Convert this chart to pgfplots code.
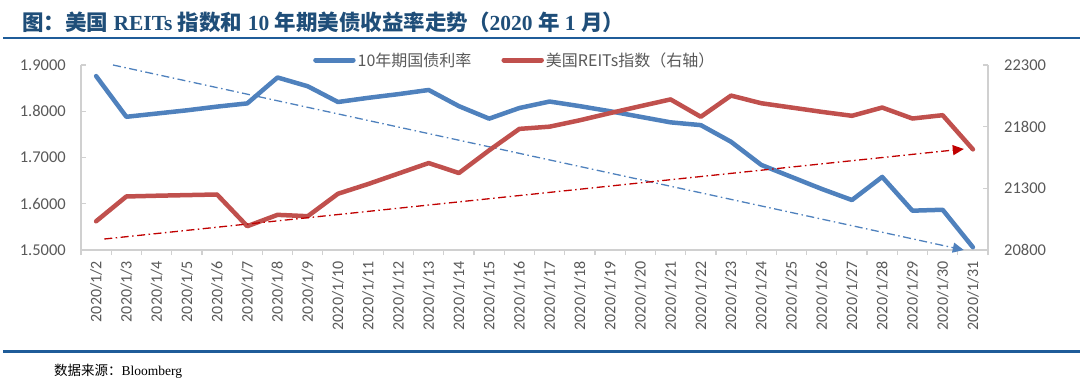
\documentclass[border=0pt]{standalone}
\usepackage{fontspec}
\usepackage{pgfplots}
\pgfplotsset{compat=1.18}
\usetikzlibrary{arrows.meta}
\setmainfont{Liberation Serif}
\newfontfamily\cjk{Noto Sans CJK SC}
\newfontfamily\numfont{Carlito}
\definecolor{blueS}{HTML}{4F81BD}
\definecolor{redS}{HTML}{C0504D}
\definecolor{redT}{HTML}{C00000}
\definecolor{titleblue}{HTML}{1F4E79}
\definecolor{ruleblue}{HTML}{1F5C99}
\definecolor{axgray}{HTML}{D0D0D0}
\definecolor{lblgray}{HTML}{595959}

\begin{document}
\begin{tikzpicture}
\path[use as bounding box] (0,0) rectangle (1080bp,384bp);
\node[anchor=west, inner sep=0pt, text=titleblue, font=\fontsize{21.5bp}{24bp}\selectfont\bfseries] at (22bp,362bp)
 {{\cjk 图：美国} REITs {\cjk 指数和} 10 {\cjk 年期美债收益率走势（}2020 {\cjk 年} 1 {\cjk 月）}};
\fill[ruleblue] (3bp,344.5bp) rectangle (1080bp,347bp);
\fill[ruleblue] (3bp,30.5bp) rectangle (1080bp,33.5bp);
\node[anchor=base west, inner sep=0pt, font=\fontsize{13.5bp}{16bp}\selectfont] at (54bp,9bp) {{\cjk 数据来源：}Bloomberg};

\begin{axis}[
  at={(81bp,134bp)}, anchor=south west,
  width=907bp, height=185bp, scale only axis,
  clip=false,
  xmin=-0.5, xmax=29.5, ymin=1.5, ymax=1.9,
  axis x line*=bottom, axis y line*=left,
  axis line style={draw=axgray, line width=1.2bp},
  tick align=inside,
  major tick length=5bp,
  ytick={1.5,1.6,1.7,1.8,1.9},
  ytick style={draw=axgray, line width=1.2bp},
  /pgf/number format/assume math mode=true,
  yticklabel style={/pgf/number format/.cd, fixed, fixed zerofill, precision=4, /tikz/.cd,
     font=\numfont\fontsize{16.5bp}{18bp}\selectfont, text=lblgray, inner sep=0pt},
  yticklabel shift=15bp,
  xtick={0,...,29},
  xticklabels={2020/1/2,2020/1/3,2020/1/4,2020/1/5,2020/1/6,2020/1/7,2020/1/8,2020/1/9,2020/1/10,2020/1/11,2020/1/12,2020/1/13,2020/1/14,2020/1/15,2020/1/16,2020/1/17,2020/1/18,2020/1/19,2020/1/20,2020/1/21,2020/1/22,2020/1/23,2020/1/24,2020/1/25,2020/1/26,2020/1/27,2020/1/28,2020/1/29,2020/1/30,2020/1/31},
  xtick style={draw=none},
  xticklabel style={rotate=90, anchor=east, inner sep=0pt, font=\numfont\fontsize{16bp}{18bp}\selectfont, text=lblgray},
  xticklabel shift=11bp,
  extra x ticks={-0.5,0.5,...,29.5},
  extra x tick labels={},
  extra x tick style={tick align=outside, xtick style={draw=axgray, line width=1.2bp}},
  legend columns=2,
  legend style={draw=none, fill=none, at={(0.2558,1.027)}, anchor=west, inner sep=0pt,
     font=\cjk\fontsize{16bp}{18bp}\selectfont, text=lblgray,
     /tikz/every even column/.append style={column sep=28bp}},
  legend image code/.code={\draw[#1, line cap=round] (2.5bp,0bp) -- (40bp,0bp);},
]
\addlegendimage{blueS, line width=5bp}
\addlegendentry{10年期国债利率}
\addlegendimage{redS, line width=5bp}
\addlegendentry{美国REITs指数（右轴）}
\addplot[blueS, line width=4.5bp, line join=round, line cap=round, forget plot] coordinates {
(0,1.876) (1,1.788) (2,1.795) (3,1.802) (4,1.810) (5,1.817) (6,1.873) (7,1.854) (8,1.820) (9,1.829)
(10,1.837) (11,1.846) (12,1.811) (13,1.784) (14,1.807) (15,1.821) (16,1.811) (17,1.800) (18,1.788) (19,1.776)
(20,1.770) (21,1.734) (22,1.684) (23,1.658) (24,1.632) (25,1.608) (26,1.658) (27,1.585) (28,1.587) (29,1.506)};
\addplot[blueS, line width=1.3bp, dash pattern=on 8bp off 3.5bp on 1.5bp off 3.5bp, -{Triangle[length=11bp,width=10bp]}, forget plot]
 coordinates {(0.56,1.900) (28.7,1.500)};
\end{axis}

\begin{axis}[
  at={(81bp,134bp)}, anchor=south west,
  width=907bp, height=185bp, scale only axis,
  clip=false,
  xmin=-0.5, xmax=29.5, ymin=20800, ymax=22300,
  axis y line*=right, axis x line=none,
  axis line style={draw=axgray, line width=1.2bp},
  tick align=inside,
  major tick length=5bp,
  ytick={20800,21300,21800,22300},
  ytick style={draw=axgray, line width=1.2bp},
  scaled y ticks=false,
  /pgf/number format/assume math mode=true,
  yticklabel style={/pgf/number format/.cd, 1000 sep={}, /tikz/.cd,
     font=\numfont\fontsize{16.5bp}{18bp}\selectfont, text=lblgray, inner sep=0pt},
  yticklabel shift=16bp,
]
\addplot[redS, line width=4.5bp, line join=round, line cap=round] coordinates {
(0,21033) (1,21234) (2,21240) (3,21245) (4,21250) (5,20993) (6,21085) (7,21074) (8,21256) (9,21335)
(10,21420) (11,21505) (12,21424) (13,21608) (14,21782) (15,21800) (16,21852) (17,21910) (18,21966) (19,22021)
(20,21880) (21,22052) (22,21990) (23,21955) (24,21920) (25,21888) (26,21955) (27,21866) (28,21893) (29,21616)};
\addplot[redT, line width=1.3bp, dash pattern=on 8bp off 3.5bp on 1.5bp off 3.5bp, -{Triangle[length=11bp,width=10bp]}]
 coordinates {(0.27,20889) (28.7,21619)};
\end{axis}
\end{tikzpicture}
\end{document}
